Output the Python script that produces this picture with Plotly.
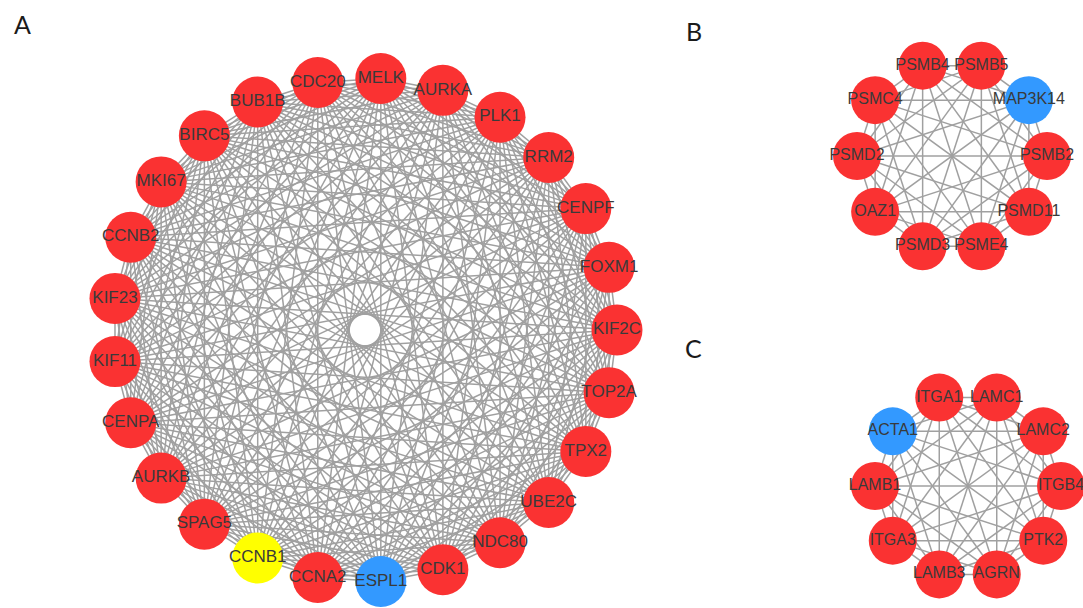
import itertools
import math
import plotly.graph_objects as go

W, H = 1083, 608

# ---- data: node names (in circular-layout order, clockwise from the right) ----
nodes_a = ["KIF2C", "TOP2A", "TPX2", "UBE2C", "NDC80", "CDK1", "ESPL1", "CCNA2",
           "CCNB1", "SPAG5", "AURKB", "CENPA", "KIF11", "KIF23", "CCNB2", "MKI67",
           "BIRC5", "BUB1B", "CDC20", "MELK", "AURKA", "PLK1", "RRM2", "CENPF", "FOXM1"]
groups_a = {"ESPL1": "down", "CCNB1": "hub"}

nodes_b = ["PSMB2", "PSMD11", "PSME4", "PSMD3", "OAZ1", "PSMD2", "PSMC4",
           "PSMB4", "PSMB5", "MAP3K14"]
groups_b = {"MAP3K14": "down"}

nodes_c = ["ITGB4", "PTK2", "AGRN", "LAMB3", "ITGA3", "LAMB1", "ACTA1",
           "ITGA1", "LAMC1", "LAMC2"]
groups_c = {"ACTA1": "down"}

# each module is a fully connected subnetwork
edges_a = list(itertools.combinations(nodes_a, 2))
edges_b = list(itertools.combinations(nodes_b, 2))
edges_c = list(itertools.combinations(nodes_c, 2))

panel_letters = ["A", "B", "C"]

# ---- styling / layout ----
COLORS = {"up": "#FA3232", "down": "#3399FF", "hub": "#FFFF00"}
EDGE_COLOR = "#a0a0a0"
LABEL_COLOR = "#3a3a3a"

panels = [
    dict(nodes=nodes_a, groups=groups_a, edges=edges_a, cx=365, cy=330, r=252, size=51, font=17),
    dict(nodes=nodes_b, groups=groups_b, edges=edges_b, cx=952, cy=156, r=95, size=48, font=16),
    dict(nodes=nodes_c, groups=groups_c, edges=edges_c, cx=968, cy=486, r=93, size=48, font=16),
]

fig = go.Figure()

for p in panels:
    n = len(p["nodes"])
    pos = {}
    for i, name in enumerate(p["nodes"]):
        t = 2 * math.pi * i / n
        pos[name] = (p["cx"] + p["r"] * math.cos(t), p["cy"] + p["r"] * math.sin(t))
    ex, ey = [], []
    for a, b in p["edges"]:
        ex += [pos[a][0], pos[b][0], None]
        ey += [pos[a][1], pos[b][1], None]
    fig.add_trace(go.Scatter(x=ex, y=ey, mode="lines",
                             line=dict(color=EDGE_COLOR, width=1.5),
                             hoverinfo="skip", showlegend=False))

for p in panels:
    n = len(p["nodes"])
    xs, ys, cols = [], [], []
    for i, name in enumerate(p["nodes"]):
        t = 2 * math.pi * i / n
        xs.append(p["cx"] + p["r"] * math.cos(t))
        ys.append(p["cy"] + p["r"] * math.sin(t))
        cols.append(COLORS[p["groups"].get(name, "up")])
    fig.add_trace(go.Scatter(x=xs, y=ys, mode="markers",
                             marker=dict(size=p["size"], color=cols, line=dict(width=0)),
                             hoverinfo="skip", showlegend=False))
    fig.add_trace(go.Scatter(x=xs, y=ys, mode="text", text=p["nodes"],
                             textposition="middle center", cliponaxis=False,
                             textfont=dict(family="Liberation Sans, Arial", size=p["font"],
                                           color=LABEL_COLOR),
                             hoverinfo="skip", showlegend=False))

letter_pos = [(22, 24), (694, 31), (693, 348)]
for lab, (lx, ly) in zip(panel_letters, letter_pos):
    fig.add_annotation(x=lx, y=ly, text=lab, showarrow=False,
                       xanchor="center", yanchor="middle",
                       font=dict(family="Lato", size=25, color="#1a1a1a"))

fig.update_layout(
    width=W, height=H, autosize=False,
    margin=dict(l=0, r=0, t=0, b=0),
    paper_bgcolor="white", plot_bgcolor="white",
    xaxis=dict(range=[0, W], visible=False, fixedrange=True),
    yaxis=dict(range=[H, 0], visible=False, fixedrange=True),
    showlegend=False,
)

fig.write_html(
    "out.html",
    config={"displayModeBar": False},
    post_script="document.body.style.margin='0';document.body.style.overflow='hidden';",
)
